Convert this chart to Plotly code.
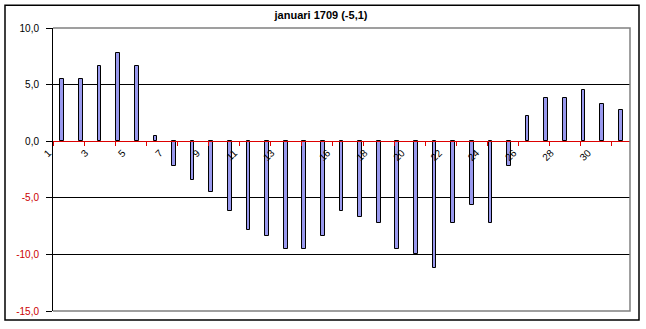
import plotly.graph_objects as go

days = list(range(1, 32))
temps = [5.5, 5.5, 6.6, 7.8, 6.6, 0.5, -2.2, -3.4, -4.5, -6.2,
         -7.8, -8.4, -9.5, -9.5, -8.4, -6.2, -6.7, -7.2, -9.5, -10.0,
         -11.2, -7.2, -5.6, -7.2, -2.2, 2.2, 3.8, 3.8, 4.5, 3.3, 2.8]
x_labels = [1, 3, 5, 7, 9, 11, 13, 16, 18, 20, 22, 24, 26, 28, 30]
y_ticks = [10, 5, 0, -5, -10, -15]
title_text = "januari 1709 (-5,1)"

def fmt(v):
    s = f"{v:.1f}".replace(".", ",")
    if v < 0:
        return f'<span style="color:#cc0000">{s}</span>'
    return s

W, H = 646, 329
L, R, T, B = 53, 16, 28, 16
pw, ph = W - L - R, H - T - B
ymin, ymax = -15, 10
zero_pos = (0 - ymin) / (ymax - ymin)

fig = go.Figure()
fig.add_trace(go.Bar(
    x=days, y=temps, width=0.2,
    marker=dict(color="#9999EE", line=dict(color="black", width=1)),
    showlegend=False,
))

font = dict(family="Liberation Sans, Arial, sans-serif", size=10, color="black")

fig.update_layout(
    width=W, height=H,
    margin=dict(l=L, r=R, t=T, b=B),
    paper_bgcolor="white", plot_bgcolor="white",
    font=font,
    bargap=0,
    title=dict(text=f"<b>{title_text}</b>", x=(L + 268) / W, xanchor="center",
               y=1 - 15 / H, yanchor="middle", yref="container",
               font=dict(family="Liberation Sans, Arial, sans-serif", size=11, color="black")),
    xaxis=dict(
        range=[0.5, 31.5], tickmode="array", tickvals=x_labels,
        ticktext=[str(v) for v in x_labels],
        tickangle=-45, ticks="", showgrid=False, zeroline=False,
        showline=True, linecolor="#dd0000", linewidth=1,
        anchor="free", position=zero_pos,
        ticklabelshift=-14, ticklabelstandoff=1,
        tickfont=font,
        minor=dict(tickmode="linear", tick0=0.5, dtick=5 / 3,
                   ticks="outside", ticklen=4, tickcolor="#dd0000",
                   tickwidth=1, showgrid=False),
    ),
    yaxis=dict(
        range=[ymin, ymax], tickmode="array", tickvals=y_ticks,
        ticktext=[fmt(v) for v in y_ticks],
        ticks="outside", ticklen=6, tickcolor="black", tickwidth=1,
        showline=True, linecolor="black", linewidth=1,
        showgrid=False, zeroline=False,
        minor=dict(tickvals=[5, -5, -10], showgrid=True, gridcolor="black",
                   gridwidth=1, ticks=""),
        ticklabelstandoff=5,
        tickfont=font,
    ),
)

# gray plot border (top, right, bottom)
fig.add_shape(type="path", xref="paper", yref="paper",
              path="M 0 1 L 1 1 L 1 0 L 0 0",
              line=dict(color="#808080", width=1.5), layer="above")
# outer chart frame
fx0, fx1 = (5 - L) / pw, (639 - L) / pw
fy0, fy1 = (H - B - 322) / ph, (H - B - 5) / ph
fig.add_shape(type="rect", xref="paper", yref="paper",
              x0=fx0, x1=fx1, y0=fy0, y1=fy1,
              line=dict(color="black", width=1.5), layer="above")

fig.write_html("out.html")
